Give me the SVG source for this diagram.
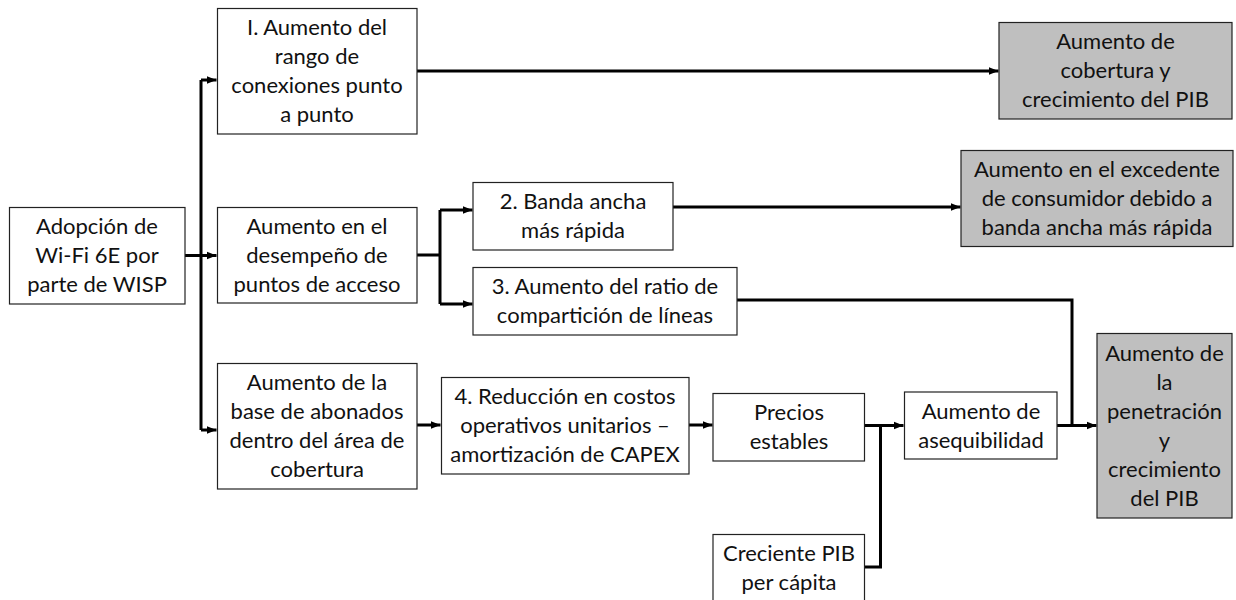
<svg xmlns="http://www.w3.org/2000/svg" width="1236" height="600" viewBox="0 0 1236 600">
<defs>
<marker id="arr" markerUnits="userSpaceOnUse" markerWidth="10" markerHeight="10" viewBox="0 0 10 10" refX="10" refY="5" orient="auto">
<path d="M0,1 L10,5 L0,9 Z" fill="#000"/>
</marker>
</defs>
<style>
.box{fill:#fff;stroke:#222;stroke-width:1.2}
.out{fill:#bfbfbf;stroke:#222;stroke-width:1.2}
text{font-family:Lato,"Open Sans","Liberation Sans",sans-serif;font-size:22px;fill:#111;text-anchor:middle}
.c{fill:none;stroke:#000;stroke-width:3}
.a{marker-end:url(#arr)}
</style>
<rect width="1236" height="600" fill="#fff"/>
<g id="connectors">
<path class="c a" d="M185,255.5 H216.5"/>
<path class="c" d="M201,80 V430"/>
<path class="c a" d="M201,80 H216.5"/>
<path class="c a" d="M201,430 H216.5"/>
<path class="c a" d="M417,71 H998.5"/>
<path class="c" d="M417,255 H440 M440,210 V304"/>
<path class="c a" d="M440,210 H472.5"/>
<path class="c a" d="M440,304 H472.5"/>
<path class="c a" d="M673,207 H960.5"/>
<path class="c" d="M737,300 H1072 V425.5"/>
<path class="c a" d="M417,425 H440.5"/>
<path class="c a" d="M689,425 H712.5"/>
<path class="c a" d="M865,425.5 H903.5"/>
<path class="c" d="M864,567 H880.5 V425.5"/>
<path class="c a" d="M1057,425.5 H1096.5"/>
</g>
<g id="n-adopcion"><rect class="box" x="9.5" y="207.5" width="175.5" height="96.5"/>
<text x="97" y="234">Adopción de</text><text x="97" y="263">Wi-Fi 6E por</text><text x="97" y="292">parte de WISP</text></g>
<g id="n-rango"><rect class="box" x="217.5" y="8.5" width="199.5" height="125.5"/>
<text x="317" y="35">I. Aumento del</text><text x="317" y="64">rango de</text><text x="317" y="93">conexiones punto</text><text x="317" y="122">a punto</text></g>
<g id="n-desempeno"><rect class="box" x="217.5" y="207.5" width="199.5" height="95.5"/>
<text x="317" y="233.5">Aumento en el</text><text x="317" y="262.5">desempeño de</text><text x="317" y="291.5">puntos de acceso</text></g>
<g id="n-banda"><rect class="box" x="473" y="182.5" width="200" height="67.5"/>
<text x="573" y="209">2. Banda ancha</text><text x="573" y="238">más rápida</text></g>
<g id="n-ratio"><rect class="box" x="473" y="267.5" width="264" height="67.5"/>
<text x="605" y="294">3. Aumento del ratio de</text><text x="605" y="323">compartición de líneas</text></g>
<g id="n-base"><rect class="box" x="217.5" y="363.5" width="199.5" height="125.5"/>
<text x="317" y="390">Aumento de la</text><text x="317" y="419">base de abonados</text><text x="317" y="448">dentro del área de</text><text x="317" y="477">cobertura</text></g>
<g id="n-reduccion"><rect class="box" x="441.5" y="377.5" width="247.5" height="96.5"/>
<text x="565" y="403.5">4. Reducción en costos</text><text x="565" y="432.5">operativos unitarios –</text><text x="565" y="461.5">amortización de CAPEX</text></g>
<g id="n-precios"><rect class="box" x="713" y="393.5" width="151.5" height="67.5"/>
<text x="789" y="420">Precios</text><text x="789" y="449">estables</text></g>
<g id="n-creciente"><rect class="box" x="713" y="534.5" width="151.5" height="68"/>
<text x="789" y="560.5">Creciente PIB</text><text x="789" y="589.5">per cápita</text></g>
<g id="n-asequibilidad"><rect class="box" x="904.5" y="392" width="152.5" height="67"/>
<text x="981" y="418.5">Aumento de</text><text x="981" y="447.5">asequibilidad</text></g>
<g id="n-cobertura"><rect class="out" x="999" y="22.5" width="233" height="96.5"/>
<text x="1115.5" y="48.5">Aumento de</text><text x="1115.5" y="77.5">cobertura y</text><text x="1115.5" y="106.5">crecimiento del PIB</text></g>
<g id="n-excedente"><rect class="out" x="961" y="150.5" width="272" height="96"/>
<text x="1097" y="176.5">Aumento en el excedente</text><text x="1097" y="205.5">de consumidor debido a</text><text x="1097" y="234.5">banda ancha más rápida</text></g>
<g id="n-penetracion"><rect class="out" x="1097" y="333.5" width="135" height="184.5"/>
<text x="1164.5" y="360.5">Aumento de</text><text x="1164.5" y="389.5">la</text><text x="1164.5" y="418.5">penetración</text><text x="1164.5" y="447.5">y</text><text x="1164.5" y="476.5">crecimiento</text><text x="1164.5" y="505.5">del PIB</text></g>
</svg>
